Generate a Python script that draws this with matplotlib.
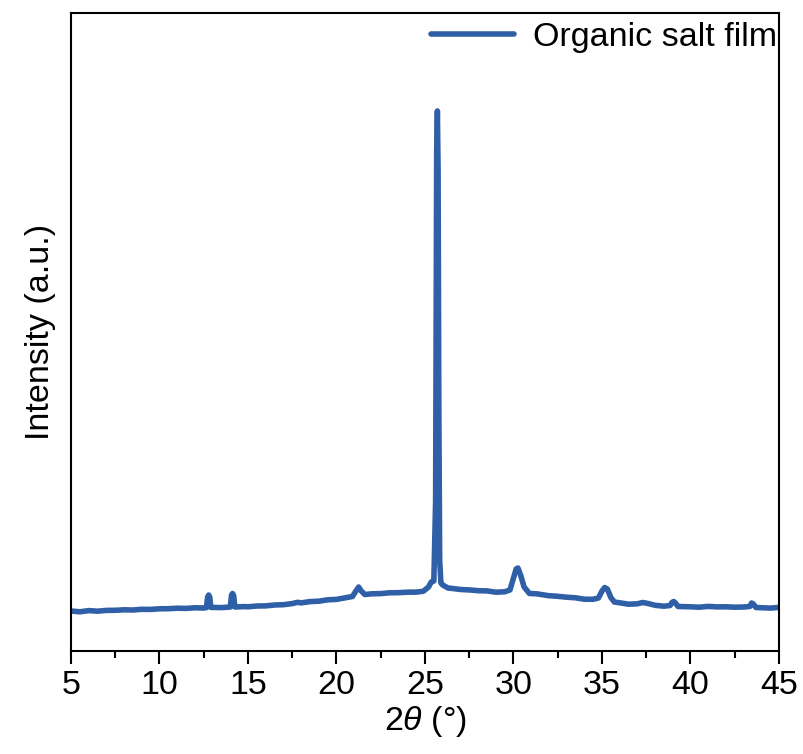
import matplotlib.pyplot as plt
from matplotlib.ticker import MultipleLocator

plt.rcParams['font.family'] = ['Liberation Sans', 'DejaVu Sans']
plt.rcParams['mathtext.fontset'] = 'custom'
plt.rcParams['mathtext.it'] = 'Liberation Sans:italic'
plt.rcParams['mathtext.rm'] = 'Liberation Sans'

# XRD scan (2theta in degrees, intensity in counts)
two_theta = [5.0, 5.5, 6.0, 6.5, 7.0, 7.5, 8.0, 8.5, 9.0, 9.5, 10.0, 10.5, 11.0, 11.5,
             12.0, 12.5, 12.65, 12.72, 12.78, 12.84, 12.9, 13.5, 14.0, 14.07, 14.13,
             14.19, 14.26, 14.8, 15.0, 15.5, 16.0, 16.5, 17.0, 17.5, 17.8, 18.0, 18.5,
             19.0, 19.5, 20.0, 20.5, 20.9, 21.1, 21.25, 21.4, 21.6, 22.0, 22.5, 23.0,
             23.5, 24.0, 24.5, 24.9, 25.2, 25.35, 25.5, 25.6, 25.66, 25.7, 25.74, 25.78,
             25.83, 25.9, 26.0, 26.3, 26.7, 27.0, 27.5, 28.0, 28.5, 29.0, 29.5, 29.8,
             30.0, 30.15, 30.25, 30.4, 30.6, 30.9, 31.3, 32.0, 32.5, 33.0, 33.5, 34.0,
             34.5, 34.8, 35.0, 35.15, 35.3, 35.5, 35.7, 36.0, 36.5, 37.0, 37.3, 37.6,
             38.0, 38.5, 38.85, 38.95, 39.05, 39.15, 39.3, 40.0, 40.5, 41.0, 41.5, 42.0,
             42.5, 43.0, 43.35, 43.45, 43.55, 43.7, 44.0, 44.5, 45.0]
intensity = [400, 392, 404, 398, 406, 407, 412, 410, 417, 416, 422, 423, 428, 426,
             432, 430, 434, 540, 560, 540, 436, 434, 440, 560, 575,
             555, 440, 444, 442, 450, 451, 460, 463, 474, 487, 481, 494,
             498, 512, 516, 532, 545, 600, 640, 600, 565, 572, 574, 582,
             583, 588, 589, 597, 640, 690, 700, 1500, 5000, 5400, 4800, 2500,
             900, 680, 660, 630, 622, 615, 611, 603, 601, 588, 592, 610,
             730, 820, 830, 760, 640, 575, 572, 553, 547, 538, 532, 518,
             517, 530, 600, 635, 620, 535, 490, 482, 468, 472, 485, 475,
             457, 448, 455, 485, 495, 480, 445, 442, 438, 446, 441, 442,
             438, 440, 445, 480, 470, 435, 433, 429, 436]

fig = plt.figure(figsize=(8.04, 7.54), dpi=100)
ax = fig.add_axes([0.0883, 0.1366, 0.8806, 0.8462])

ax.plot(two_theta, intensity, color='#2f5fa6', lw=4.0, solid_capstyle='round',
        solid_joinstyle='round', label='Organic salt film')

ax.set_xlim(5, 45)
ax.set_ylim(0, 6380)
ax.xaxis.set_major_locator(MultipleLocator(5))
ax.xaxis.set_minor_locator(MultipleLocator(2.5))
ax.set_yticks([])

for sp in ax.spines.values():
    sp.set_linewidth(1.5)
ax.tick_params(axis='x', which='major', length=9, width=1.5, labelsize=24.5, pad=5)
ax.tick_params(axis='x', which='minor', length=5, width=1.5)

ax.set_xlabel(r'2$\theta$ (°)', fontsize=24.5, labelpad=2)
ax.set_ylabel('Intensity (a.u.)', fontsize=24.5, labelpad=11)

ax.legend(loc='upper right', bbox_to_anchor=(1.0, 0.989), frameon=False,
          fontsize=24.5, handlelength=2.45, handletextpad=0.56,
          borderaxespad=0.0, borderpad=0.05)

fig.savefig('out.png', dpi=100)
